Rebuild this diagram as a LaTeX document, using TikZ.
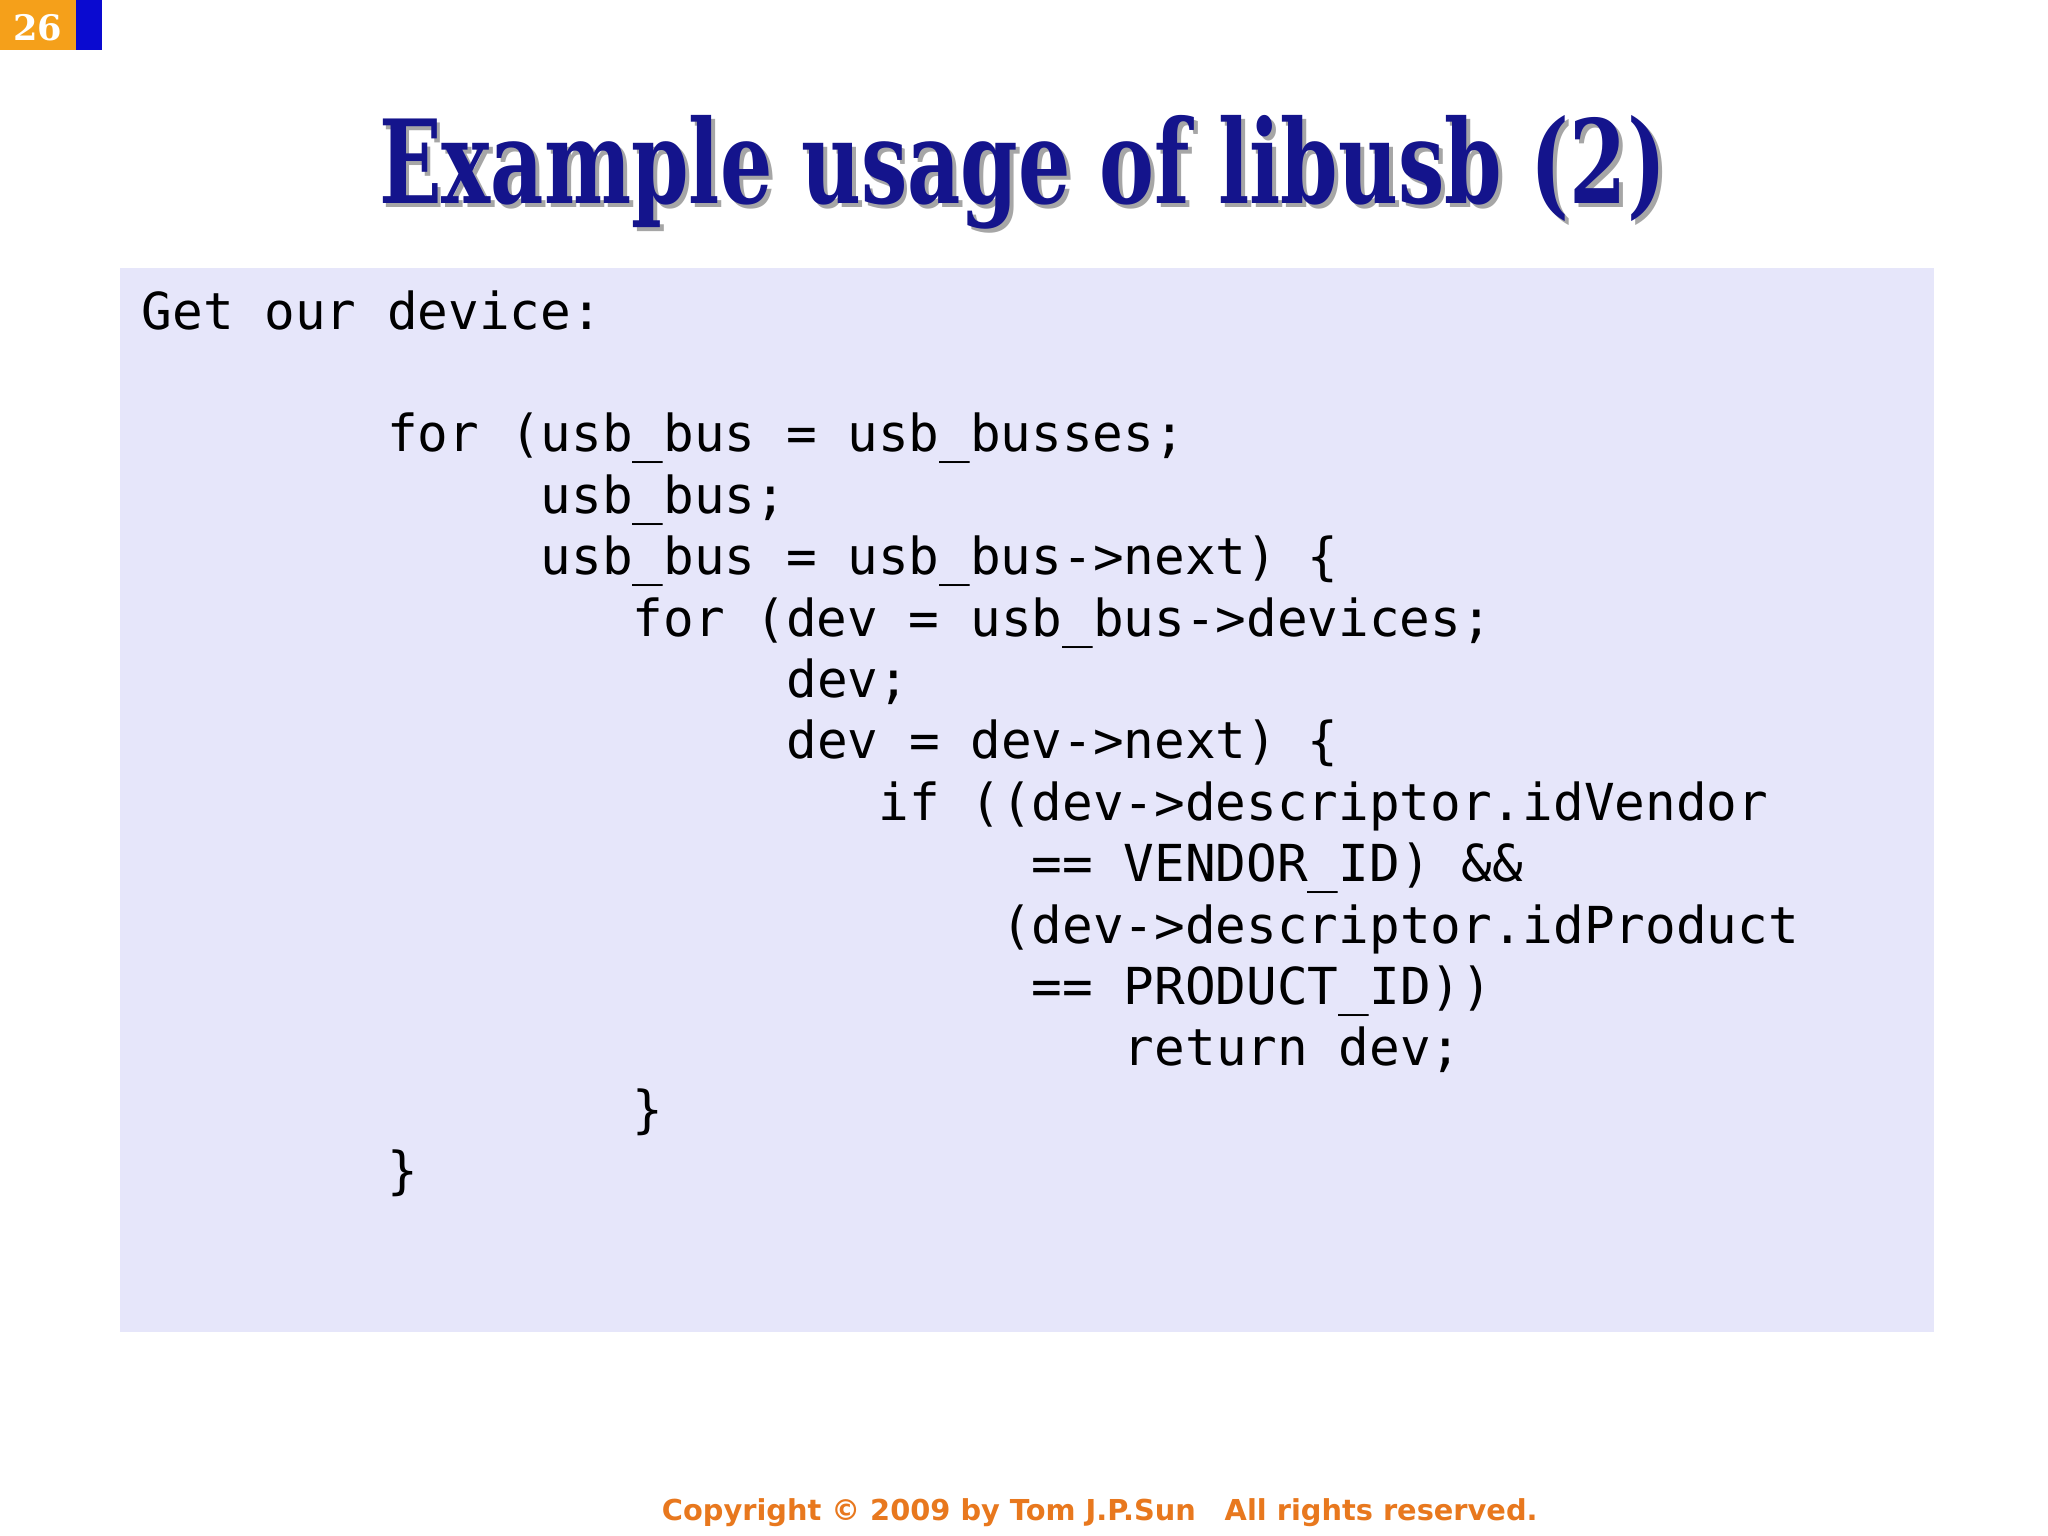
\documentclass[tikz,border=0pt]{standalone}
\usepackage{fontspec}
\setmainfont{DejaVu Serif}
\setmonofont{DejaVu Sans Mono}
\setsansfont{DejaVu Sans}
\definecolor{lav}{HTML}{E6E6FA}
\definecolor{pgor}{HTML}{F5A01A}
\definecolor{pgbl}{HTML}{0A0AD0}
\definecolor{ttl}{HTML}{14148C}
\definecolor{copy}{HTML}{E8781E}
\tikzset{code/.style={anchor=base west,inner sep=0pt,font=\ttfamily\fontsize{14.5}{17}\selectfont},
 ttlfont/.style={font=\bfseries\fontsize{33}{40}\selectfont,xscale=0.71,transform shape}}
\begin{document}
\begin{tikzpicture}[x=0.0130612cm,y=-0.0130612cm]
\useasboundingbox (0,0) rectangle (1568,1176);
\fill[white] (0,0) rectangle (1568,1176);
\fill[pgor] (0,0) rectangle (58,38);
\fill[pgbl] (58,0) rectangle (78,38);
\node[text=white,font=\bfseries\fontsize{10}{12}\selectfont] (pg) at (29,21) {26};
\node[text=gray!70,ttlfont] (ts) at (786,135) {Example usage of libusb (2)};
\node[text=ttl,ttlfont] (title) at (783,132) {Example usage of libusb (2)};
\fill[lav] (92,205) rectangle (1481,1020);
\node[code] (l0) at (108,252) {Get our device:};
\foreach \c/\r/\t [count=\i] in {
 8/346/{for (usb\_bus = usb\_busses;},
 13/393/{usb\_bus;},
 13/440/{usb\_bus = usb\_bus->next) \{},
 16/487/{for (dev = usb\_bus->devices;},
 21/534/{dev;},
 21/581/{dev = dev->next) \{},
 24/628/{if ((dev->descriptor.idVendor},
 29/675/{== VENDOR\_ID) \&\&},
 28/722/{(dev->descriptor.idProduct},
 29/769/{== PRODUCT\_ID))},
 32/816/{return dev;},
 16/863/{\}},
 8/910/{\}}}
 \node[code] (l\i) at ({108+23.5*\c},\r) {\t};
\node[text=copy,font=\sffamily\bfseries\fontsize{8.2}{10}\selectfont] (cp) at (842,1158) {Copyright © 2009 by Tom J.P.Sun\quad All rights reserved.};
\end{tikzpicture}
\end{document}
